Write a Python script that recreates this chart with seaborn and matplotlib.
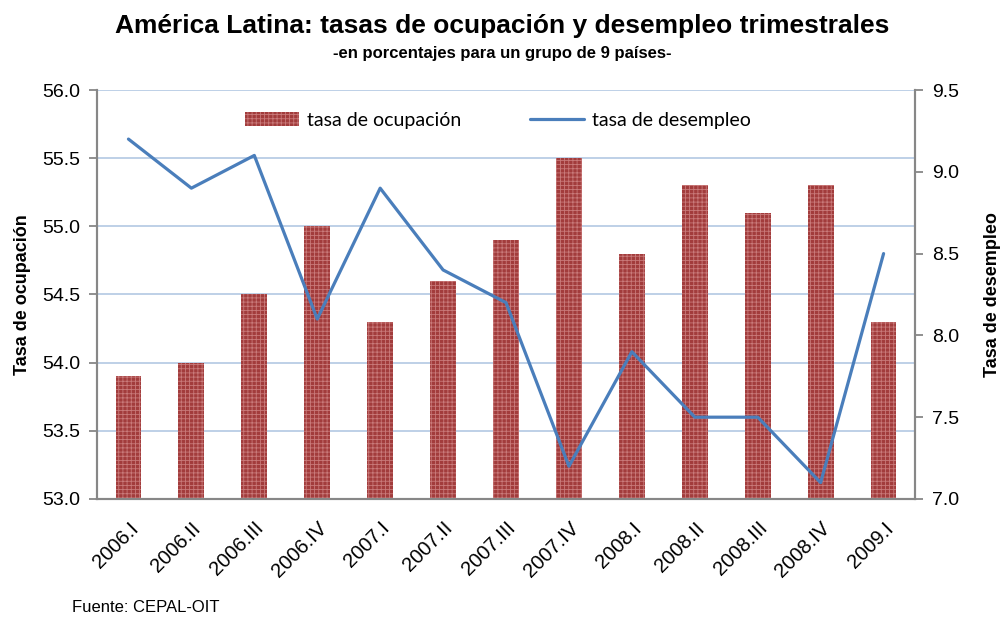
import numpy as np
import matplotlib
matplotlib.use("Agg")
import matplotlib.pyplot as plt
import seaborn as sns

trimestres = ["2006.I", "2006.II", "2006.III", "2006.IV", "2007.I", "2007.II", "2007.III",
              "2007.IV", "2008.I", "2008.II", "2008.III", "2008.IV", "2009.I"]
ocupacion = [53.9, 54.0, 54.5, 55.0, 54.3, 54.6, 54.9, 55.5, 54.8, 55.3, 55.1, 55.3, 54.3]
desempleo = [9.2, 8.9, 9.1, 8.1, 8.9, 8.4, 8.2, 7.2, 7.9, 7.5, 7.5, 7.1, 8.5]

sns.set_style("white")
plt.rcParams["font.family"] = ["Liberation Sans", "DejaVu Sans"]
plt.rcParams["hatch.linewidth"] = 0.6
plt.rcParams["text.color"] = "black"
plt.rcParams["axes.labelcolor"] = "black"

grey = "#878787"
bar_red = "#a23c3c"
line_blue = "#4a7ebb"

fig = plt.figure(figsize=(10.04, 6.19), dpi=100)
ax = fig.add_axes([0.0966, 0.1939, 0.8148, 0.6607])
ax2 = ax.twinx()

sns.barplot(x=trimestres, y=ocupacion, ax=ax, color=bar_red, saturation=1, width=0.41,
            hatch="++++", edgecolor="#c97a7a", linewidth=0, zorder=2,
            label="tasa de ocupación")
sns.lineplot(x=np.arange(len(trimestres)), y=desempleo, ax=ax2, color=line_blue,
             linewidth=2.3, label="tasa de desempleo")

ax.set_xlim(-0.5, len(trimestres) - 0.5)
ax.set_ylim(53.0, 56.0)
ax.set_yticks(np.arange(53.0, 56.01, 0.5))
ax.set_yticklabels([f"{v:.1f}" for v in np.arange(53.0, 56.01, 0.5)], fontsize=14)
ax2.set_ylim(7.0, 9.5)
ax2.set_yticks(np.arange(7.0, 9.51, 0.5))
ax2.set_yticklabels([f"{v:.1f}" for v in np.arange(7.0, 9.51, 0.5)], fontsize=14)

ax.yaxis.grid(True, color="#b9cde5", linewidth=1.3, zorder=0)
ax.set_axisbelow(True)
ax.xaxis.grid(False)
ax2.grid(False)

# x ticks at category boundaries, labels centred
ax.set_xticks(np.arange(len(trimestres)))
ax.set_xticklabels(trimestres, rotation=45, ha="right", rotation_mode="anchor", fontsize=14.5)
ax.set_xticks(np.arange(-0.5, len(trimestres), 1), minor=True)
ax.tick_params(axis="x", which="major", length=0, pad=14, labelcolor="black")
ax.tick_params(axis="x", which="minor", length=6, color=grey, width=1.3, direction="out")
ax.tick_params(axis="y", length=6, color=grey, width=1.3, direction="out", pad=6,
               labelcolor="black")
ax2.tick_params(axis="y", length=6, color=grey, width=1.3, direction="out", pad=6,
                labelcolor="black")

for a in (ax, ax2):
    for s in a.spines.values():
        s.set_color(grey)
        s.set_linewidth(1.5)
    a.spines["top"].set_visible(False)

ax.set_xlabel("")
ax.set_ylabel("Tasa de ocupación", fontsize=13, fontweight="bold", labelpad=8)
ax2.set_ylabel("Tasa de desempleo", fontsize=13, fontweight="bold", labelpad=18)

h1, l1 = ax.get_legend_handles_labels()
h2, l2 = ax2.get_legend_handles_labels()
if ax2.get_legend():
    ax2.get_legend().remove()
if ax.get_legend():
    ax.get_legend().remove()
ax2.legend(h1 + h2, l1 + l2, loc="upper center", bbox_to_anchor=(0.49, 0.99), ncol=2,
           frameon=False, columnspacing=3.5, handlelength=2.8,
           handletextpad=0.4, prop={"family": ["Lato", "DejaVu Sans"], "size": 14})

fig.text(0.5, 0.958, "América Latina: tasas de ocupación y desempleo trimestrales",
         ha="center", va="center", fontsize=19, fontweight="bold",
         family=["Liberation Sans Narrow", "Liberation Sans"])
fig.text(0.5, 0.914, "-en porcentajes para un grupo de 9 países-",
         ha="center", va="center", fontsize=12, fontweight="bold",
         family=["Liberation Sans Narrow", "Liberation Sans"])
fig.text(0.072, 0.018, "Fuente: CEPAL-OIT", ha="left", va="center", fontsize=12)

fig.savefig("out.png", dpi=100)
